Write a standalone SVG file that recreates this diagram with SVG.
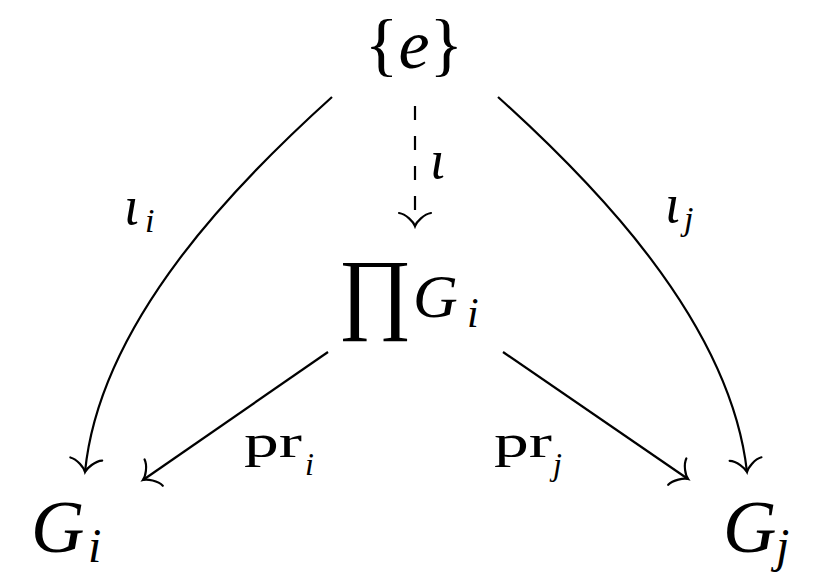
<svg xmlns="http://www.w3.org/2000/svg" width="832" height="580" viewBox="0 0 832 580">
<style>
.t{font-family:"Liberation Serif","Times New Roman",serif;fill:#000}
.it{font-style:italic}
.ln{fill:none;stroke:#000;stroke-width:2.2}
</style>
<defs>
<marker id="to" markerUnits="userSpaceOnUse" markerWidth="40" markerHeight="40" viewBox="-20 -20 40 40" refX="0" refY="0" orient="auto" overflow="visible">
<path d="M -13 -16 C -12 -9 -4 -1.5 0 0 C -4 1.5 -12 9 -13 16" fill="none" stroke="#000" stroke-width="2.2" stroke-linecap="round"/>
</marker>
</defs>
<rect width="832" height="580" fill="#fff"/>
<g id="connectors">
<path class="ln" d="M 332 97 C 240 180 100 320 85 472" marker-end="url(#to)"/>
<path class="ln" d="M 498 97 C 590 180 730 320 747 472" marker-end="url(#to)"/>
<path class="ln" d="M 415 106 L 415 226" stroke-dasharray="14 16" marker-end="url(#to)"/>
<path class="ln" d="M 328 352 L 143 480" marker-end="url(#to)"/>
<path class="ln" d="M 503 352 L 688 479" marker-end="url(#to)"/>
<text class="t it" x="124" y="224" font-size="54">ι</text>
<text class="t it" x="145" y="232" font-size="34">i</text>
<text class="t it" x="665" y="222" font-size="54">ι</text>
<text class="t it" x="684" y="230" font-size="34">j</text>
<text class="t it" x="430" y="178" font-size="54">ι</text>
<text class="t" x="244" y="457" font-size="46" textLength="58" lengthAdjust="spacingAndGlyphs">pr</text>
<text class="t it" x="305" y="475" font-size="32">i</text>
<text class="t" x="494" y="457" font-size="46" textLength="58" lengthAdjust="spacingAndGlyphs">pr</text>
<text class="t it" x="553" y="475" font-size="32">j</text>
</g>
<g id="node-e">
<text class="t" x="414" y="68" font-size="70" text-anchor="middle">{<tspan class="it">e</tspan>}</text>
</g>
<g id="node-prod">
<text class="t" x="338" y="322" font-size="90">∏</text>
<text class="t it" x="413" y="317" font-size="62">G</text>
<text class="t it" x="467" y="327" font-size="42">i</text>
</g>
<g id="node-Gi">
<text class="t it" x="31" y="552" font-size="74">G</text>
<text class="t it" x="88" y="562" font-size="48">i</text>
</g>
<g id="node-Gj">
<text class="t it" x="723" y="552" font-size="74">G</text>
<text class="t it" x="776" y="562" font-size="48">j</text>
</g>
</svg>
